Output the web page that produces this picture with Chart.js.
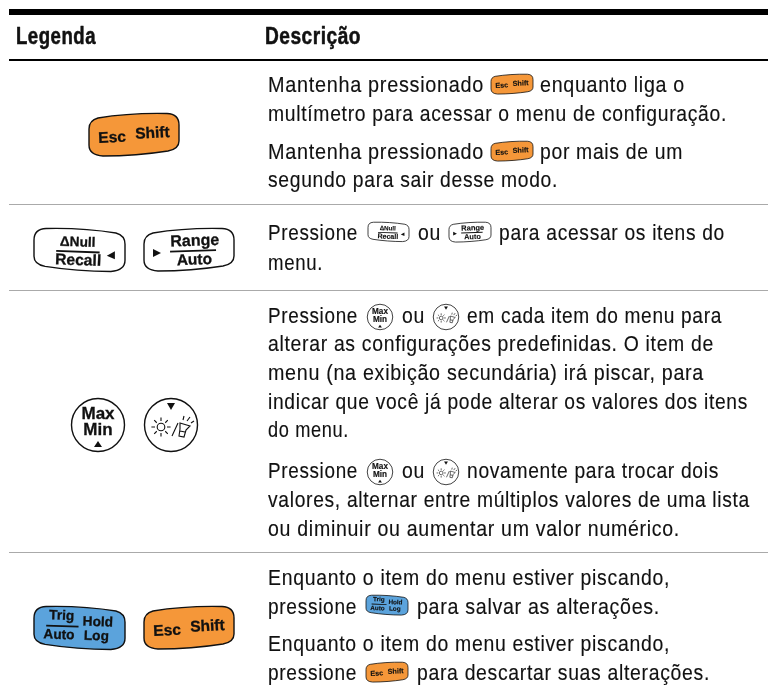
<!DOCTYPE html>
<html lang="pt"><head><meta charset="utf-8">
<style>html,body{margin:0;padding:0;background:#fff}canvas{display:block}</style>
<script src="https://cdn.jsdelivr.net/npm/chart.js@4"></script></head>
<body><canvas id="c" width="768" height="693"></canvas>
<script>
const headers = ["Legenda", "Descrição"];
const row1 = ["Mantenha pressionado", "enquanto liga o", "multímetro para acessar o menu de configuração.", "por mais de um", "segundo para sair desse modo."];
const row2 = ["Pressione", "ou", "para acessar os itens do", "menu."];
const row3 = ["em cada item do menu para", "alterar as configurações predefinidas. O item de", "menu (na exibição secundária) irá piscar, para", "indicar que você já pode alterar os valores dos itens", "do menu.", "novamente para trocar dois", "valores, alternar entre múltiplos valores de uma lista", "ou diminuir ou aumentar um valor numérico."];
const row4 = ["Enquanto o item do menu estiver piscando,", "pressione", "para salvar as alterações.", "para descartar suas alterações."];

const ORANGE = "#F59739", BLUE = "#5BA3DC", INK = "#111";
const BODY = "'Liberation Sans',Arial,sans-serif";
const KEYF = "'Liberation Sans',Arial,sans-serif";

function txt(ctx, s, x, y, w, font, heavy, spacing) {
  ctx.font = font; ctx.letterSpacing = spacing + "px"; ctx.fillStyle = INK; ctx.textAlign = "left"; ctx.textBaseline = "alphabetic";
  const n = ctx.measureText(s).width;
  ctx.save(); ctx.translate(x, y); ctx.scale(w / n, 1);
  ctx.fillText(s, 0, 0);
  if (heavy) { ctx.strokeStyle = INK; ctx.lineWidth = heavy; ctx.lineJoin = "round"; ctx.strokeText(s, 0, 0); }
  ctx.restore();
  ctx.letterSpacing = "0px";
}
function ctxt(ctx, s, x, y, size) {
  ctx.font = "bold " + size + "px " + KEYF; ctx.fillStyle = "#111"; ctx.textAlign = "center"; ctx.textBaseline = "middle";
  ctx.fillText(s, x, y);
  ctx.strokeStyle = "#111"; ctx.lineWidth = 0.3; ctx.strokeText(s, x, y);
}
function tri(ctx, x1, y1, x2, y2, x3, y3) {
  ctx.fillStyle = "#111"; ctx.beginPath(); ctx.moveTo(x1, y1); ctx.lineTo(x2, y2); ctx.lineTo(x3, y3); ctx.closePath(); ctx.fill();
}
function bar(ctx, x1, x2, y) { ctx.fillRect(x1, y - 0.9, x2 - x1, 1.8); }

function keyShape(ctx, flip, fill, lw) {
  ctx.save();
  if (flip) { ctx.translate(90, 0); ctx.scale(-1, 1); }
  ctx.beginPath();
  ctx.moveTo(0, 16);
  ctx.quadraticCurveTo(0, 7.5, 9, 5);
  ctx.bezierCurveTo(30, 1.5, 55, 0, 78, 0.5);
  ctx.quadraticCurveTo(90, 1, 90, 12);
  ctx.lineTo(90, 28);
  ctx.quadraticCurveTo(90, 36, 79, 38);
  ctx.bezierCurveTo(60, 41, 35, 43, 14, 43);
  ctx.quadraticCurveTo(0, 42, 0, 32);
  ctx.closePath();
  ctx.restore();
  ctx.fillStyle = fill; ctx.fill();
  ctx.strokeStyle = "#111"; ctx.lineWidth = lw; ctx.stroke();
}
const keys = {
  esc(ctx, lw) {
    keyShape(ctx, false, ORANGE, lw);
    ctx.save(); ctx.translate(45, 21.5); ctx.rotate(-0.05);
    ctxt(ctx, "Esc", -22, 2.5, 15.5); ctxt(ctx, "Shift", 18.5, 0, 15.5); ctx.restore();
  },
  nullk(ctx, lw) {
    keyShape(ctx, true, "#fff", lw);
    ctx.save(); ctx.translate(45, 21.5); ctx.rotate(0.035);
    ctxt(ctx, "ΔNull", -2, -7, 13.5); ctx.fillStyle = "#111"; bar(ctx, -23, 20, 2);
    ctxt(ctx, "Recall", -1, 11, 15.5); ctx.restore();
    tri(ctx, 72, 27.5, 80, 23, 80, 31);
  },
  range(ctx, lw) {
    keyShape(ctx, false, "#fff", lw);
    ctx.save(); ctx.translate(45, 21.5); ctx.rotate(-0.035);
    ctxt(ctx, "Range", 6, -8, 16); ctx.fillStyle = "#111"; bar(ctx, -19, 27, 1.5);
    ctxt(ctx, "Auto", 5, 11, 15.5); ctx.restore();
    tri(ctx, 17, 25, 9, 21, 9, 29);
  },
  trig(ctx, lw) {
    keyShape(ctx, true, BLUE, lw);
    ctx.save(); ctx.translate(45, 21.5); ctx.rotate(0.035);
    ctxt(ctx, "Trig", -18, -11, 13.5); ctx.fillStyle = "#111"; bar(ctx, -33, -1, -1);
    ctxt(ctx, "Auto", -20, 8, 13.5);
    ctxt(ctx, "Hold", 18, -6, 13.5); ctxt(ctx, "Log", 17, 8, 13.5); ctx.restore();
  },
  maxk(ctx, lw) {
    ctx.beginPath(); ctx.arc(27, 27, 26.5, 0, Math.PI * 2); ctx.fillStyle = "#fff"; ctx.fill();
    ctx.strokeStyle = "#111"; ctx.lineWidth = lw; ctx.stroke();
    ctxt(ctx, "Max", 27, 16, 17); ctxt(ctx, "Min", 27, 32, 17);
    tri(ctx, 27, 43, 23, 49, 31, 49);
  },
  light(ctx, lw) {
    ctx.beginPath(); ctx.arc(27, 27, 26.5, 0, Math.PI * 2); ctx.fillStyle = "#fff"; ctx.fill();
    ctx.strokeStyle = "#111"; ctx.lineWidth = lw; ctx.stroke();
    tri(ctx, 27, 12, 23, 5, 31, 5);
    ctx.lineWidth = lw * 0.8; ctx.beginPath(); ctx.arc(17, 29, 3.8, 0, Math.PI * 2); ctx.stroke();
    ctx.beginPath();
    for (let i = 0; i < 8; i++) {
      const a = i * Math.PI / 4;
      ctx.moveTo(17 + 6 * Math.cos(a), 29 + 6 * Math.sin(a));
      ctx.lineTo(17 + 9.6 * Math.cos(a), 29 + 9.6 * Math.sin(a));
    }
    ctx.moveTo(28, 38); ctx.lineTo(34, 25);
    ctx.moveTo(36, 25); ctx.lineTo(46, 28); ctx.lineTo(42, 32); ctx.lineTo(40, 39); ctx.lineTo(35, 38); ctx.lineTo(36, 31); ctx.closePath();
    ctx.moveTo(36, 33); ctx.lineTo(41, 34);
    ctx.moveTo(39, 22); ctx.lineTo(40, 18); ctx.moveTo(43, 23); ctx.lineTo(46, 19); ctx.moveTo(47, 25); ctx.lineTo(50, 23);
    ctx.stroke();
  }
};
function key(ctx, name, x, y, w) {
  const base = (name === "maxk" || name === "light") ? 54 : 90;
  const s = w / base;
  ctx.save(); ctx.translate(x, y); ctx.scale(s, s);
  keys[name](ctx, (s < 0.7 ? 0.8 / s : 1.4));
  ctx.restore();
}

const sheet = {
  id: "sheet",
  afterDraw(chart) {
    const ctx = chart.ctx, X = v => chart.scales.x.getPixelForValue(v), Y = v => chart.scales.y.getPixelForValue(v);
    const rule = (y1, y2, col) => { ctx.fillStyle = col; ctx.fillRect(X(9), Y(y1), X(768) - X(9), Y(y2) - Y(y1)); };
    rule(9, 15, "#000"); rule(59, 61, "#000");
    rule(204, 205, "#aaa"); rule(290, 291, "#aaa"); rule(552, 553, "#aaa");

    const H = "bold 23px " + BODY, T = "22.5px " + BODY;
    txt(ctx, headers[0], X(16), Y(43.5), 80, H, 0.5, 0.6);
    txt(ctx, headers[1], X(265), Y(43.5), 96, H, 0.5, 0.6);

    const t = (s, x, y, w) => txt(ctx, s, X(x), Y(y), w, T, 0.15, 0.8);
    t(row1[0], 268, 92, 216); t(row1[1], 540, 92, 145);
    t(row1[2], 268, 121, 459);
    t(row1[0], 268, 159, 216); t(row1[3], 540, 159, 143);
    t(row1[4], 268, 187, 290);
    key(ctx, "esc", X(89), Y(113), 90);
    key(ctx, "esc", X(491), Y(74), 42);
    key(ctx, "esc", X(491), Y(141), 42);
    t(row2[0], 268, 240, 90); t(row2[1], 418, 240, 23); t(row2[2], 499, 240, 226);
    t(row2[3], 268, 270, 55);
    key(ctx, "nullk", X(34), Y(228), 91);
    key(ctx, "range", X(144), Y(228), 90);
    key(ctx, "nullk", X(368), Y(222), 41);
    key(ctx, "range", X(449), Y(222), 42);
    t(row2[0], 268, 323, 90); t(row2[1], 402, 323, 23); t(row3[0], 467, 323, 255);
    t(row3[1], 268, 351, 446); t(row3[2], 268, 380, 436); t(row3[3], 268, 409, 480); t(row3[4], 268, 437, 81);
    t(row2[0], 268, 478, 90); t(row2[1], 402, 478, 23); t(row3[5], 467, 478, 252);
    t(row3[6], 268, 507, 482); t(row3[7], 268, 536, 412);
    key(ctx, "maxk", X(71), Y(398), 54);
    key(ctx, "light", X(144), Y(398), 54);
    key(ctx, "maxk", X(367), Y(304), 26); key(ctx, "light", X(433), Y(304), 26);
    key(ctx, "maxk", X(367), Y(459), 26); key(ctx, "light", X(433), Y(459), 26);
    t(row4[0], 268, 585, 402);
    t(row4[1], 268, 614, 89); t(row4[2], 417, 614, 243);
    t(row4[0], 268, 651, 402);
    t(row4[1], 268, 680, 89); t(row4[3], 417, 680, 293);
    key(ctx, "trig", X(34), Y(606), 91);
    key(ctx, "esc", X(144), Y(606), 90);
    key(ctx, "trig", X(366), Y(595), 42);
    key(ctx, "esc", X(366), Y(662), 42);
  }
};

new Chart(document.getElementById("c"), {
  type: "scatter",
  data: { datasets: [{ label: headers[1], data: [] }] },
  options: {
    responsive: false, animation: false,
    layout: { padding: 0 },
    plugins: { legend: { display: false }, tooltip: { enabled: false } },
    scales: {
      x: { type: "linear", min: 0, max: 768, display: false },
      y: { type: "linear", min: 0, max: 693, reverse: true, display: false }
    }
  },
  plugins: [sheet]
});
</script></body></html>
